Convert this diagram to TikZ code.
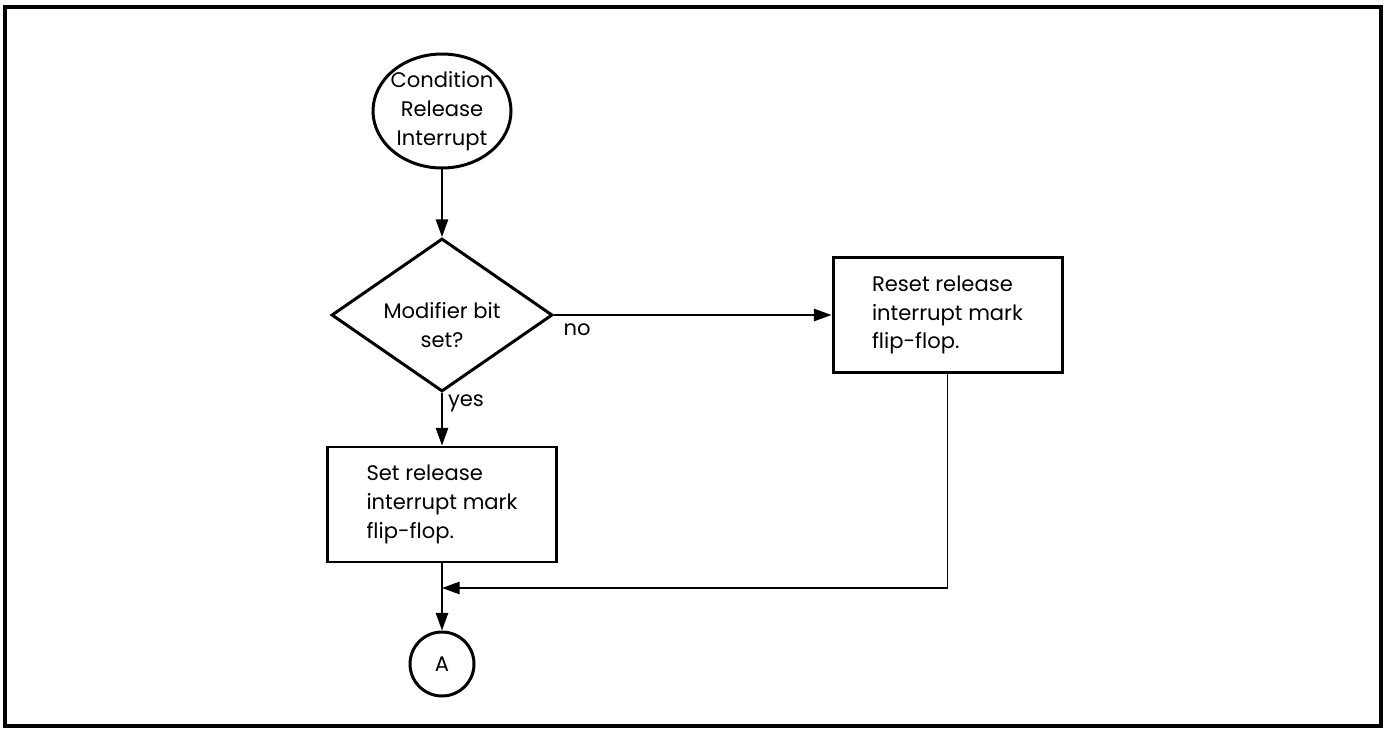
\documentclass[tikz,border=0pt]{standalone}
\usepackage{fontspec}
\setmainfont{Poppins}
\usetikzlibrary{shapes.geometric,arrows.meta}

\begin{document}
\begin{tikzpicture}[
        font=\fontsize{12}{16.4}\selectfont,
        flowline/.style={line width=0.85pt, -{Triangle[length=10pt, width=7pt]}},
        terminal/.style={ellipse, draw, line width=1.7pt, inner sep=0pt},
        decision/.style={diamond, draw, line width=1.7pt, inner sep=0pt},
        process/.style={rectangle, draw, line width=1.7pt, align=left, minimum width=4.58cm, minimum height=2.3cm}
    ]
        \useasboundingbox (0, 0) rectangle (27.68, -14.58);

        % Frame
        \draw[line width=2.3pt] (0.1, -0.14) rectangle (27.62, -14.52);

        % Left column
        \node[terminal, minimum width=2.76cm, minimum height=2.28cm,
            label={[align=center]center:Condition\\Release\\Interrupt}] (start) at (8.84, -2.22) {};
        \node[decision, minimum width=4.42cm, minimum height=3.06cm,
            label={[align=center, yshift=-0.2cm]center:Modifier bit\\set?}] (dec) at (8.84, -6.3) {};
        \node[process] (setmark) at (8.84, -10.09) {Set release\\interrupt mark\\flip-flop.};
        \coordinate (join) at (8.84, -11.76);
        \node[circle, draw, line width=1.7pt, minimum size=1.28cm, inner sep=0pt] (exitA) at (8.84, -13.28) {A};

        % Right column
        \node[process] (resetmark) at (18.95, -6.3) {Reset release\\interrupt mark\\flip-flop.};

        \draw[flowline] (start) -- (dec);
        \draw[flowline] (dec) -- (setmark);
        \draw[flowline] (dec.east) -- (resetmark.west);
        \draw[flowline] (setmark) -- (exitA);
        \draw[flowline] (resetmark.south) |- (join);

        \node at (9.32, -8.06) {yes};
        \node at (11.54, -6.6) {no};
    \end{tikzpicture}
\end{document}
